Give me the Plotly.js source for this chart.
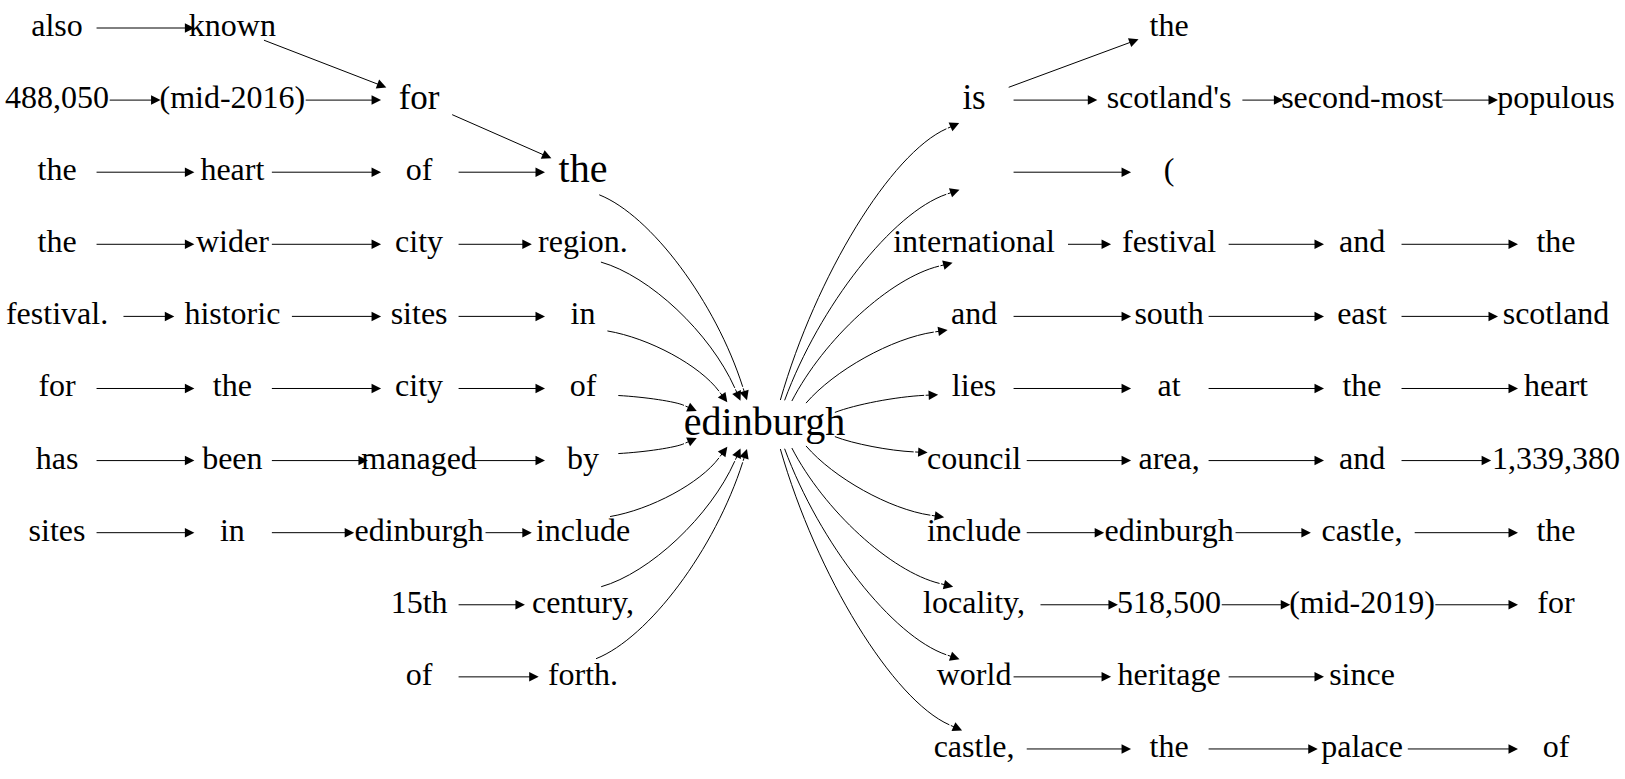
<!DOCTYPE html>
<html><head><meta charset="utf-8">
<script src="https://cdn.plot.ly/plotly-3.0.1.min.js"></script>
<style>body{margin:0;background:#fff}#c{width:1625px;height:779px}</style>
</head><body><div id="c"></div>
<script>
const words=["also","known","488,050","(mid-2016)","for","the","heart","of","the","the","wider","city","region.","festival.","historic","sites","in","for","the","city","of","has","been","managed","by","sites","in","edinburgh","include","15th","century,","of","forth.","edinburgh","is","","the","scotland's","second-most","populous","(","international","festival","and","the","and","south","east","scotland","lies","at","the","heart","council","area,","and","1,339,380","include","edinburgh","castle,","the","locality,","518,500","(mid-2019)","for","world","heritage","since","castle,","the","palace","of"];
const cols=[0,1,0,1,2,0,1,2,3,0,1,2,3,0,1,2,3,0,1,2,3,0,1,2,3,0,1,2,3,2,3,2,3,4,5,5,6,6,7,8,6,5,6,7,8,5,6,7,8,5,6,7,8,5,6,7,8,5,6,7,8,5,6,7,8,5,6,7,5,6,7,8];
const rows=[0,0,1,1,1,2,2,2,2,3,3,3,3,4,4,4,4,5,5,5,5,6,6,6,6,7,7,7,7,8,8,9,9,5.5,1,2,0,1,1,1,2,3,3,3,3,4,4,4,4,5,5,5,5,6,6,6,6,7,7,7,7,8,8,8,8,9,9,9,10,10,10,10];
const sizes=words.map((w,i)=>i===33||i===8?40:(i===4||i===34?35:32));
const edgeFrom=[0,1,2,3,4,5,6,7,9,10,11,13,14,15,17,18,19,21,22,23,25,26,27,29,31,8,12,16,20,24,28,30,32,33,33,33,33,33,33,33,33,33,33,34,34,37,38,35,41,42,43,45,46,47,49,50,51,53,54,55,57,58,59,61,62,63,65,66,68,69,70];
const edgeTo=[1,4,3,4,8,6,7,8,10,11,12,14,15,16,18,19,20,22,23,24,26,27,28,30,32,33,33,33,33,33,33,33,33,34,35,41,45,49,53,57,61,65,68,36,37,38,39,40,42,43,44,46,47,48,50,51,52,54,55,56,58,59,60,62,63,64,66,67,69,70,71];

const S=1/0.964;
const colX=[55,224,404,562,737,939,1127,1313,1500].map(v=>v*S);
const rowY=r=>(27+r*69.5)*S;
const X=words.map((w,i)=>colX[cols[i]]), Y=words.map((w,i)=>rowY(rows[i]));
const hw=i=>Math.max(38,words[i].length*0.215*sizes[i]+3);
const ry=i=>sizes[i]>=34?25:19;
function bnd(i,dx,dy){const rx=hw(i),r=ry(i);const t=1/Math.sqrt((dx/rx)**2+(dy/r)**2);return [X[i]+dx*t,Y[i]+dy*t];}

const shapes=[],ann=[];
const head={showarrow:true,arrowhead:2,arrowsize:1.9,arrowwidth:1,arrowcolor:'#000',standoff:0,startstandoff:0,text:'',axref:'x',ayref:'y',xref:'x',yref:'y'};
edgeFrom.forEach((a,k)=>{
  const b=edgeTo[k];const dx=X[b]-X[a],dy=Y[b]-Y[a];
  const p0=bnd(a,dx,dy),p1=bnd(b,-dx,-dy);
  if(a===33||b===33){
    const ddx=p1[0]-p0[0],ddy=p1[1]-p0[1];
    let c1,c2;
    if(b===33){c1=[p0[0]+0.35*ddx,p0[1]+0.1*ddy];c2=[p1[0]-0.2*ddx,p1[1]-0.45*ddy];}
    else{c1=[p0[0]+0.2*ddx,p0[1]+0.45*ddy];c2=[p1[0]-0.35*ddx,p1[1]-0.1*ddy];}
    let tx=p1[0]-c2[0],ty=p1[1]-c2[1];const L=Math.hypot(tx,ty);tx/=L;ty/=L;
    const q=[p1[0]-tx*14,p1[1]-ty*14];
    const c2b=[c2[0]-tx*6,c2[1]-ty*6];
    shapes.push({type:'path',xref:'x',yref:'y',path:`M ${p0[0]} ${p0[1]} C ${c1[0]} ${c1[1]} ${c2b[0]} ${c2b[1]} ${q[0]} ${q[1]}`,line:{color:'#000',width:1}});
    ann.push(Object.assign({x:p1[0],y:p1[1],ax:q[0],ay:q[1]},head));
  } else {
    ann.push(Object.assign({x:p1[0],y:p1[1],ax:p0[0],ay:p0[1]},head));
  }
});

Plotly.newPlot('c',[{x:X,y:Y,text:words,mode:'text',type:'scatter',textposition:'middle center',
  textfont:{family:'Liberation Serif, Times New Roman, serif',size:sizes,color:'#000'},hoverinfo:'none'}],
{width:1625,height:779,margin:{l:0,r:0,t:0,b:0},paper_bgcolor:'#fff',plot_bgcolor:'#fff',showlegend:false,
 xaxis:{range:[0,1625],visible:false,fixedrange:true},yaxis:{range:[779,0],visible:false,fixedrange:true},
 shapes:shapes,annotations:ann},{staticPlot:true});
</script></body></html>
